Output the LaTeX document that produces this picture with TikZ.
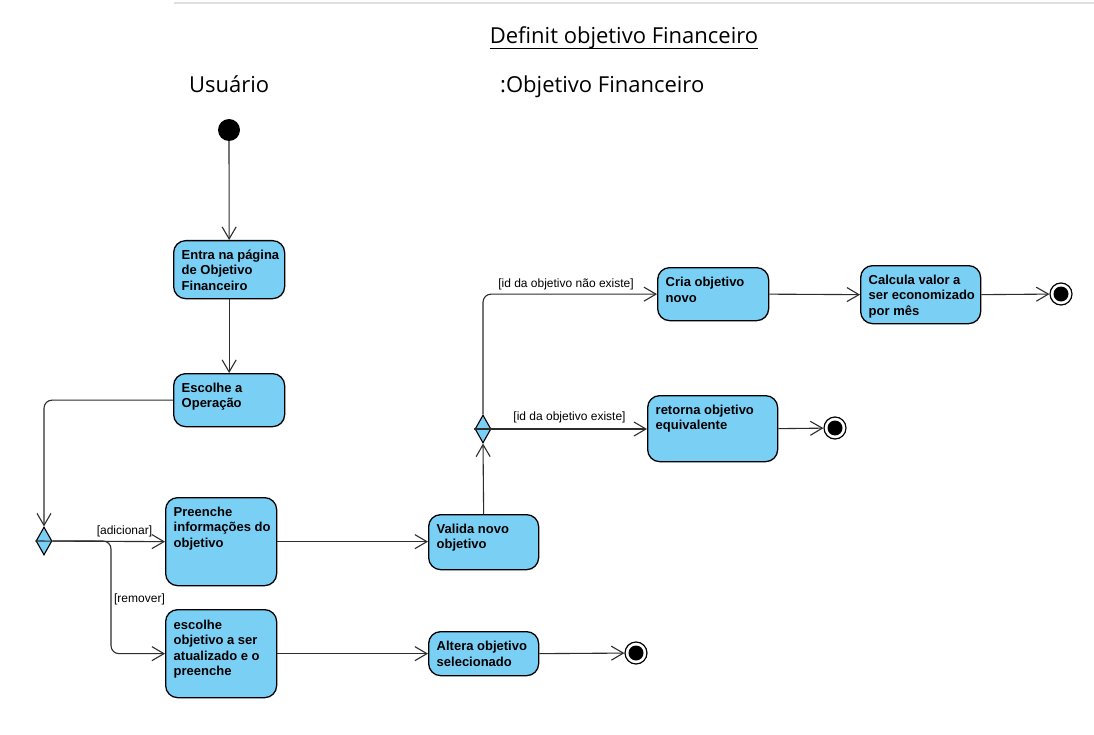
\documentclass[tikz,border=0pt]{standalone}
\usepackage{fontspec}
\setmainfont{Liberation Sans}
\newfontfamily\titlefont{Open Sans}
\usetikzlibrary{arrows.meta,shapes.geometric,calc}
\definecolor{actfill}{RGB}{122,207,245}
\definecolor{edgecol}{RGB}{45,45,45}
\begin{document}
\begin{tikzpicture}[x=1pt,y=-1pt,
 act/.style={draw=black, fill=actfill, line width=1.3pt, rounded corners=12pt, anchor=north west, inner sep=0pt},
 acttext/.style={anchor=north west, inner sep=0pt, align=left, font=\bfseries\fontsize{13}{15.5}\selectfont, execute at begin node={\rule{0pt}{12.5pt}}},
 flow/.style={draw=edgecol, line width=1.1pt, -{Straight Barb[length=12pt,width=14pt]}},
 guard/.style={font=\fontsize{12}{14}\selectfont, inner sep=0pt, text=black},
 decision/.style={diamond, draw=black, fill=actfill, line width=1.1pt, minimum width=16pt, minimum height=28pt, inner sep=0pt},
 startnode/.style={circle, fill=black, minimum size=22pt, inner sep=0pt},
 endnode/.style={circle, draw=black, line width=1.2pt, fill=white, minimum size=22pt, inner sep=0pt, path picture={\fill[black] (path picture bounding box.center) circle (7.5pt);}},
 heading/.style={font=\titlefont\fontsize{22}{26}\selectfont, inner sep=0pt}
 ]
\useasboundingbox (0,0) rectangle (1094,735);
\fill[white] (0,0) rectangle (1094,735);
\draw[color=gray!25, line width=2pt] (174,3) -- (1094,3);

% headings
\node[heading, anchor=base] (title) at (624,44) {Definit objetivo Financeiro};
\draw[line width=1.5pt] ($(title.base west)+(0,4.5)$) -- ($(title.base east)+(0,4.5)$);
\node[heading, anchor=base west] (lane1) at (189,93) {Usuário};
\node[heading, anchor=base west] (lane2) at (500,93) {:Objetivo Financeiro};

% start / end
\node[startnode] (start) at (229,130) {};
\node[endnode] (end1) at (1061,294) {};
\node[endnode] (end2) at (835,428) {};
\node[endnode] (end3) at (636,653) {};

% decisions
\node[decision] (d1) at (44,541) {};
\node[decision] (d2) at (483,429) {};

% actions
\node[act, minimum width=111pt, minimum height=58pt] (entra) at (173,240) {};
\node[acttext] (entra-t) at ($(entra.north west)+(8.5,9.5)$) {Entra na página\\de Objetivo\\Financeiro};
\node[act, minimum width=111pt, minimum height=53pt] (escolhe) at (173,373) {};
\node[acttext] (escolhe-t) at ($(escolhe.north west)+(8.5,9.5)$) {Escolhe a\\Operação};
\node[act, minimum width=111pt, minimum height=88pt] (preenche) at (165,497) {};
\node[acttext] (preenche-t) at ($(preenche.north west)+(8.5,9.5)$) {Preenche\\informações do\\objetivo};
\node[act, minimum width=111pt, minimum height=88pt] (esc2) at (165,609) {};
\node[acttext] (esc2-t) at ($(esc2.north west)+(8.5,10.5)$) {escolhe\\objetivo a ser\\atualizado e o\\preenche};
\node[act, minimum width=110pt, minimum height=55pt] (valida) at (428,514) {};
\node[acttext] (valida-t) at ($(valida.north west)+(8.5,9.5)$) {Valida novo\\objetivo};
\node[act, minimum width=110pt, minimum height=44pt] (altera) at (428,631) {};
\node[acttext] (altera-t) at ($(altera.north west)+(8.5,10)$) {Altera objetivo\\selecionado};
\node[act, minimum width=111pt, minimum height=53pt] (cria) at (657,267) {};
\node[acttext] (cria-t) at ($(cria.north west)+(8.5,10)$) {Cria objetivo\\novo};
\node[act, minimum width=120pt, minimum height=58pt] (calcula) at (860,265) {};
\node[acttext] (calcula-t) at ($(calcula.north west)+(8.5,9.5)$) {Calcula valor a\\ser economizado\\por mês};
\node[act, minimum width=130pt, minimum height=66pt] (retorna) at (647,395) {};
\node[acttext] (retorna-t) at ($(retorna.north west)+(8.5,9.5)$) {retorna objetivo\\equivalente};

% connectors
\draw[flow] (start) -- (entra.north);
\draw[flow] (entra) -- (escolhe);
\draw[flow, rounded corners=8pt] (escolhe.west) -| (d1.north);
\draw[flow] (d1.west) -- (preenche.west);
\coordinate (rb) at (111,541);
\draw[flow, rounded corners=8pt] (d1.east) -- (rb) |- (esc2.west);
\draw[flow] (preenche.east) -- (preenche.east -| valida.west);
\draw[flow] (esc2.east) -- (esc2.east -| altera.west);
\draw[flow] (altera.east) -- (end3);
\draw[flow] (valida.north) -- (d2.south);
\draw[flow, rounded corners=8pt] (d2.north) |- (cria.west);
\draw[flow] (d2.west) -- (d2.west -| retorna.west);
\draw[flow] (cria.east) -- (calcula.west);
\draw[flow] (calcula.east) -- (end1);
\draw[flow] (retorna.east) -- (end2);

% guards
\node[guard] (g1) at (124.5,531) {[adicionar]};
\node[guard] (g2) at (139.5,599) {[remover]};
\node[guard] (g3) at (566,284) {[id da objetivo não existe]};
\node[guard] (g4) at (569.5,417) {[id da objetivo existe]};
\end{tikzpicture}
\end{document}
